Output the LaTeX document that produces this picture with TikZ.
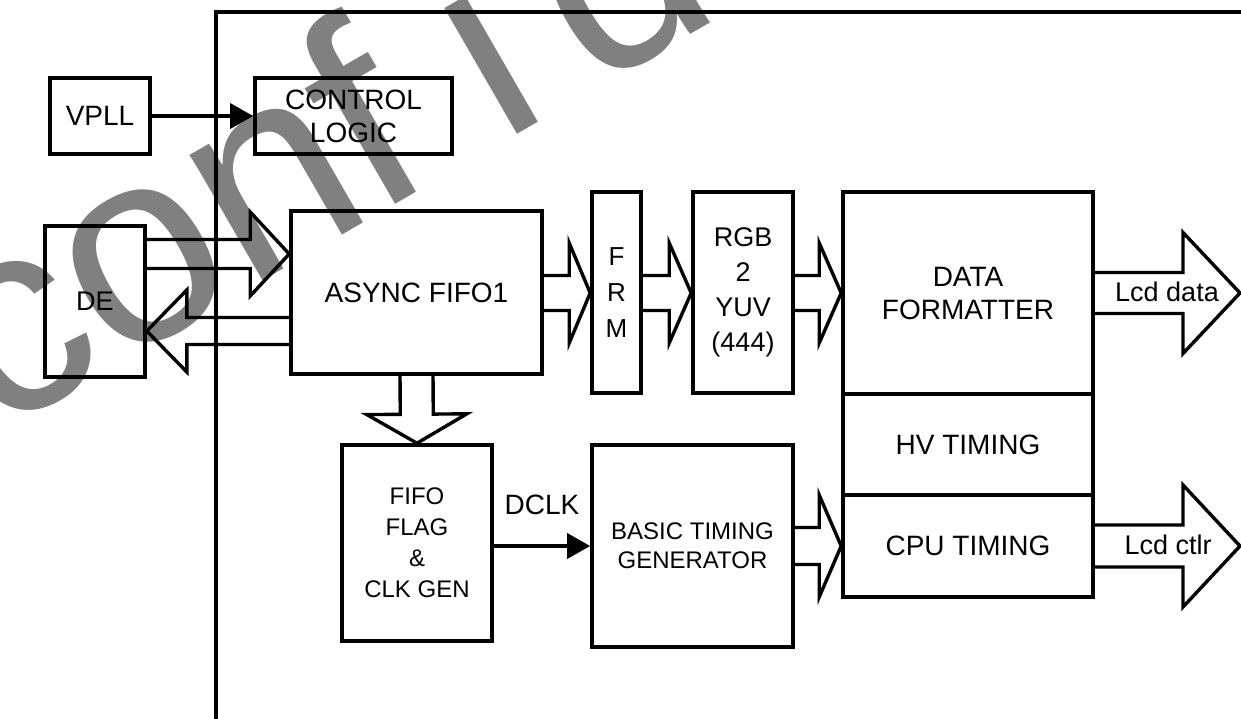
\documentclass[tikz,border=0pt]{standalone}
\usepackage{fontspec}
\setmainfont{Liberation Sans}
\usetikzlibrary{calc,arrows.meta}
\tikzset{
  box/.style={draw, line width=3.6pt, inner sep=0pt, align=center,
    font=\fontsize{28}{33}\selectfont},
  fat/.style={line width=3.4pt, line join=miter},
  arr/.style={line width=3.4pt, -{Triangle[length=23pt,width=25pt]}},
  lbl/.style={inner sep=0pt, font=\fontsize{28}{33}\selectfont},
  frame/.style={line width=3.6pt},
  watermark/.style={inner sep=0pt, text=black!50,
    font=\fontsize{275}{275}\selectfont}
}
% #2 start, #3 tip, #4 half shaft, #5 half head, #6 head length
\newcommand\fatarrow[6][]{%
  \path ($(#3)!#6!(#2)$) coordinate (fatb);
  \draw[fat,#1] ($(#2)!#4!90:(#3)$) -- ($(fatb)!#4!90:(#3)$) -- ($(fatb)!#5!90:(#3)$)
    -- (#3) -- ($(fatb)!#5!-90:(#3)$) -- ($(fatb)!#4!-90:(#3)$) -- ($(#2)!#4!-90:(#3)$);}
\begin{document}
\begin{tikzpicture}[x=1pt,y=-1pt]
\useasboundingbox (0,0) rectangle (1241,718);
% watermark
\node[watermark, anchor=base west, rotate=30] (wm) at (-5,436)
  {con\kern-5pt f\kern70pt i\kern45pt dential};
% frame
\draw[frame] (216,722) -- (216,12) -- (1245,12);
% blocks
\node[box, minimum width=100pt, minimum height=76pt] (vpll) at (100,116) {VPLL};
\node[box, minimum width=197pt, minimum height=76pt] (ctrl) at (353.5,116) {CONTROL\\LOGIC};
\node[box, minimum width=100pt, minimum height=151pt, font=\fontsize{27}{33}\selectfont] (de) at (95,301.5) {DE};
\node[box, minimum width=251pt, minimum height=163pt] (fifo) at (416.5,292.5) {ASYNC FIFO1};
\node[box, minimum width=49pt, minimum height=201pt, font=\fontsize{26}{36}\selectfont] (frm) at (616.5,292.5) {F\\R\\M};
\node[box, minimum width=100pt, minimum height=201pt, font=\fontsize{27}{35}\selectfont] (rgb) at (743,292.5) {RGB\\2\\YUV\\(444)};
\node[box, minimum width=250pt, minimum height=202pt] (df) at (968,293) {DATA\\FORMATTER};
\node[box, minimum width=250pt, minimum height=101pt] (hv) at (968,444.5) {HV TIMING};
\node[box, minimum width=250pt, minimum height=102pt] (cpu) at (968,546) {CPU TIMING};
\node[box, minimum width=150pt, minimum height=196pt, font=\fontsize{24}{31}\selectfont] (flag) at (417,543) {FIFO\\FLAG\\\&\\CLK GEN};
\node[box, minimum width=201pt, minimum height=202pt, font=\fontsize{24}{29}\selectfont] (btg) at (692.5,546) {BASIC TIMING\\GENERATOR};
% labels
\node[lbl] (dclk) at (542,505) {DCLK};
\node[lbl, font=\fontsize{27}{33}\selectfont] (lcdd) at (1167,292) {Lcd data};
\node[lbl, font=\fontsize{27}{33}\selectfont] (lcdc) at (1168,545) {Lcd ctlr};
% thin arrows
\draw[arr] (vpll) -- (ctrl);
\draw[arr] (flag.east |- 0,546) -- (btg.west |- 0,546);
% anchor coordinates for fat arrows
\coordinate (a1s) at (de.east |- 0,254);
\coordinate (a1t) at (fifo.west |- 0,254);
\coordinate (a2s) at (fifo.west |- 0,331);
\coordinate (a2t) at (de.east |- 0,331);
\coordinate (a3s) at (fifo.east |- 0,293);
\coordinate (a3t) at (frm.west |- 0,293);
\coordinate (a4s) at (frm.east |- 0,293);
\coordinate (a4t) at (rgb.west |- 0,293);
\coordinate (a5s) at (rgb.east |- 0,293);
\coordinate (a5t) at (df.west |- 0,293);
\coordinate (a6s) at (df.east |- 0,293);
\coordinate (a6t) at (1240,293);
\coordinate (a7s) at (btg.east |- 0,546);
\coordinate (a7t) at (cpu.west |- 0,546);
\coordinate (a8s) at (cpu.east |- 0,546);
\coordinate (a8t) at (1240,546);
\coordinate (a9s) at (fifo.south);
\coordinate (a9t) at (flag.north);
% fat arrows
\fatarrow{a1s}{a1t}{14.5pt}{42pt}{39pt}
\fatarrow{a2s}{a2t}{13.5pt}{41pt}{40pt}
\fatarrow{a3s}{a3t}{17.5pt}{50pt}{21pt}
\fatarrow{a4s}{a4t}{17.5pt}{50pt}{22pt}
\fatarrow{a5s}{a5t}{17.5pt}{50pt}{22pt}
\fatarrow{a6s}{a6t}{20.5pt}{60.5pt}{57pt}
\fatarrow{a7s}{a7t}{18.5pt}{51pt}{22pt}
\fatarrow{a8s}{a8t}{21pt}{61pt}{57pt}
\fatarrow{a9s}{a9t}{16.5pt}{50pt}{29pt}
\end{tikzpicture}
\end{document}
